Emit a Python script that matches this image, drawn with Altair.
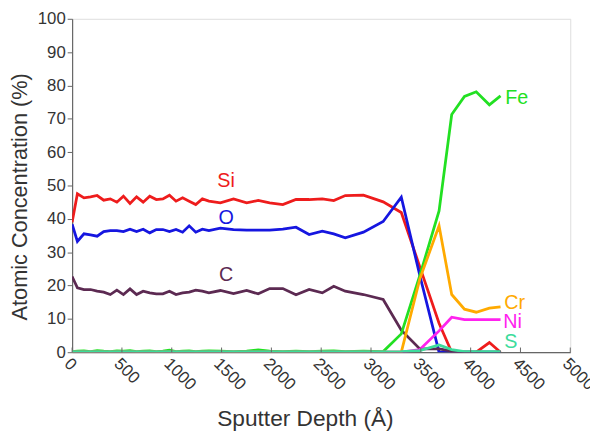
import altair as alt
import pandas as pd

depth = [0, 53, 119, 185, 251, 317, 383, 449, 515, 581, 647, 713, 779, 845, 911, 977,
         1043, 1109, 1175, 1241, 1307, 1373, 1488, 1620, 1752, 1868, 1983, 2115, 2247,
         2379, 2511, 2626, 2742, 2924, 3122, 3304, 3490, 3683, 3810, 3938, 4056, 4188, 4300]

si = [39.0, 47.5, 46.3, 46.6, 47.0, 45.6, 46.0, 45.0, 46.8, 44.6, 46.6, 45.0, 46.8, 45.8,
      46.0, 47.1, 45.3, 46.3, 45.3, 44.3, 46.0, 45.3, 44.8, 46.0, 44.8, 45.5, 44.8, 44.3,
      45.8, 45.8, 46.0, 45.5, 47.0, 47.1, 45.1, 41.9, 25.6, 8.7, 0.0, 0.0, 0.0, 2.9, 0.0]
o = [38.4, 33.2, 35.5, 35.2, 34.8, 36.2, 36.5, 36.5, 36.2, 36.9, 36.2, 36.9, 35.8, 36.8,
     36.8, 36.2, 36.8, 36.0, 37.9, 36.0, 36.9, 36.5, 37.2, 36.8, 36.6, 36.6, 36.6, 36.9,
     37.5, 35.3, 36.3, 35.5, 34.3, 36.0, 39.2, 46.5, 23.0, 0.0, 0.0, 0.0, 0.0, 0.0, 0.0]
c = [22.7, 19.3, 18.8, 18.8, 18.3, 18.0, 17.3, 18.6, 17.3, 19.0, 17.3, 18.3, 17.8, 17.5,
     17.5, 18.3, 17.3, 17.8, 18.0, 18.6, 18.3, 17.8, 18.5, 17.6, 18.5, 17.5, 19.1, 19.1,
     17.2, 18.8, 17.8, 19.8, 18.3, 17.3, 15.8, 6.6, 1.0, 1.0, 0.3, 0.0, 0.0, 0.0, 0.0]
fe = [0.2, 0.3, 0.4, 0.2, 0.5, 0.3, 0.2, 0.4, 0.3, 0.5, 0.2, 0.3, 0.4, 0.2, 0.3, 0.6,
      0.2, 0.3, 0.4, 0.2, 0.3, 0.4, 0.3, 0.2, 0.3, 0.7, 0.3, 0.2, 0.3, 0.2, 0.3, 0.4,
      0.2, 0.3, 0.2, 5.5, 23.0, 42.4, 71.3, 76.7, 78.1, 74.2, 76.9]
cr = [0.0] * 35 + [0.0, 22.0, 37.9, 17.3, 12.9, 12.0, 13.2, 13.6]
ni = [0.0] * 35 + [0.0, 0.8, 6.4, 10.5, 9.8, 9.8, 9.8, 9.8]
s = [0.1] * 35 + [0.2, 0.5, 2.2, 0.8, 0.2, 0.2, 0.2, 0.2]

elements = ["Si", "O", "C", "Fe", "Cr", "Ni", "S"]
series = [si, o, c, fe, cr, ni, s]
line_colors = ["#ee1c1c", "#1616e0", "#5c2a52", "#22e022", "#ffaa00", "#ff22ee", "#3ddc9c"]
text_colors = ["#e0202a", "#3252b8", "#602352", "#6cbf4c", "#f5a800", "#c33cb0", "#55c386"]

x_ticks = list(range(0, 5001, 500))
y_ticks = list(range(0, 101, 10))

# annotation labels
lab_center = ["Si", "O", "C"]
lab_center_x = [1545, 1545, 1545]
lab_center_y = [51.2, 40.3, 23.0]
lab_left = ["Fe", "Cr", "Ni", "S"]
lab_left_x = [4347, 4337, 4327, 4337]
lab_left_y = [76.3, 14.6, 9.0, 2.9]

rows = []
for el, vals in zip(elements, series):
    for d, v in zip(depth, vals):
        rows.append({"element": el, "depth": d, "value": v})
df = pd.DataFrame(rows)

FONT = "Liberation Sans"
xscale = alt.Scale(domain=[0, 5000], nice=False)
yscale = alt.Scale(domain=[0, 100], nice=False)

x_axis = alt.Axis(values=x_ticks, format="d", title="Sputter Depth (Å)",
                  ticks=False,
                  labelAngle=45, labelAlign="left", labelBaseline="top",
                  labelPadding=3, labelFontSize=17, labelColor="#333",
                  labelFont=FONT, labelFlush=False, labelOverlap=False,
                  domainColor="#666", domainWidth=1.2,
                  titleFont=FONT, titleFontSize=23, titleFontWeight="normal",
                  titleColor="#333", titleX=236, titleY=67,
                  titleBaseline="middle", titleAlign="center", grid=False)
y_axis = alt.Axis(values=y_ticks, format="d",
                  title="Atomic Concentration (%)",
                  tickSize=5, tickColor="#666", labelPadding=2,
                  labelFontSize=17, labelColor="#333", labelFont=FONT,
                  labelOverlap=False, labelFlush=False,
                  domainColor="#666", domainWidth=1.2,
                  titleFont=FONT, titleFontSize=22, titleFontWeight="normal",
                  titleColor="#333", titleX=-53, titleY=180, titleAngle=-90,
                  titleBaseline="middle", titleAlign="center", grid=False)

lines = alt.Chart(df).mark_line(strokeWidth=2.8, clip=True).encode(
    x=alt.X("depth:Q", scale=xscale, axis=x_axis),
    y=alt.Y("value:Q", scale=yscale, axis=y_axis),
    color=alt.Color("element:N", scale=alt.Scale(domain=elements, range=line_colors),
                    legend=None),
    order=alt.Order("depth:Q"),
    detail="element:N",
)

tick_df = pd.DataFrame({"t": x_ticks, "y0": [0] * len(x_ticks), "y1": [1.4] * len(x_ticks)})
inner_ticks = alt.Chart(tick_df).mark_rule(color="#666", strokeWidth=1).encode(
    x=alt.X("t:Q", scale=xscale, axis=x_axis),
    y=alt.Y("y0:Q", scale=yscale, axis=y_axis),
    y2="y1:Q",
)

tc = pd.DataFrame({"label": lab_center, "x": lab_center_x, "y": lab_center_y})
tl = pd.DataFrame({"label": lab_left, "x": lab_left_x, "y": lab_left_y})
tscale = alt.Scale(domain=elements, range=text_colors)

texts_c = alt.Chart(tc).mark_text(font=FONT, fontSize=20, align="center",
                                  baseline="middle").encode(
    x=alt.X("x:Q", scale=xscale, axis=x_axis), y=alt.Y("y:Q", scale=yscale, axis=y_axis),
    text="label:N",
    color=alt.Color("label:N", scale=tscale, legend=None))
texts_l = alt.Chart(tl).mark_text(font=FONT, fontSize=20, align="left",
                                  baseline="middle").encode(
    x=alt.X("x:Q", scale=xscale, axis=x_axis), y=alt.Y("y:Q", scale=yscale, axis=y_axis),
    text="label:N",
    color=alt.Color("label:N", scale=tscale, legend=None))

chart = alt.layer(lines, inner_ticks, texts_c, texts_l).properties(
    width=505, height=338,
    autosize=alt.AutoSizeParams(type="none"),
    padding={"left": 65, "top": 8, "right": 20, "bottom": 82},
).configure_view(stroke=None).configure(background="white").configure_axis(
    labelOverlap=False)

chart.save("out.html", embed_options={"renderer": "svg", "actions": False})
